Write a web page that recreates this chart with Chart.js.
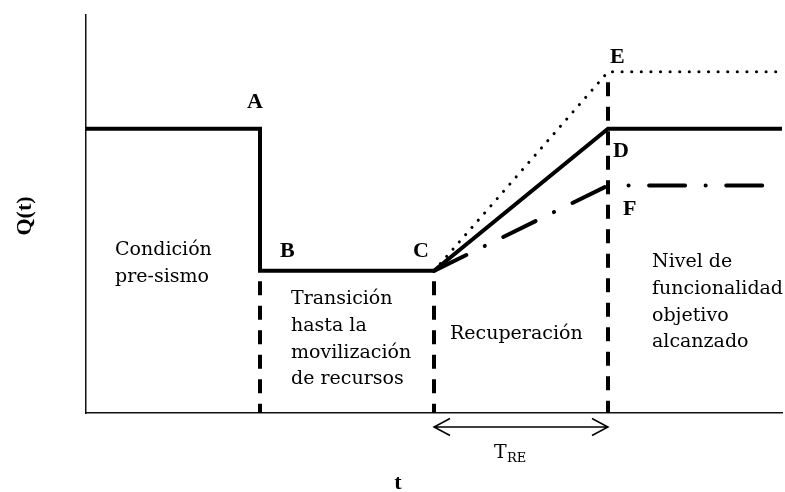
<!DOCTYPE html>
<html>
<head>
<meta charset="utf-8">
<script src="https://cdn.jsdelivr.net/npm/chart.js@4/dist/chart.umd.min.js"></script>
<style>
  html, body { margin: 0; padding: 0; background: #fff; }
  #chart { display: block; }
</style>
</head>
<body>
<canvas id="chart" width="785" height="492"></canvas>
<script>
// axis range (t, Q(t))
const tMax = 100;
const qMax = 7;

// solid curve: pre-sismo -> drop -> recovery -> target
const baseT = [0, 25, 25, 50, 75, 100];
const baseQ = [5, 5, 2.5, 2.5, 5, 5];

// dotted curve (C -> E -> level)
const upperT = [50, 75, 100];
const upperQ = [2.5, 6, 6];

// dash-dot curve (C -> F, then level)
const lowerT = [50, 75];
const lowerQ = [2.5, 4];
const lowerFlatT = [75, 100];
const lowerFlatQ = [4, 4];

// dashed phase boundaries
const phaseT = [25, 50, 75];
const phaseTop = [2.5, 2.5, 6];

// named points
const pointNames = ['A', 'B', 'C', 'D', 'E', 'F'];
const pointT = [25, 25, 50, 75, 75, 75];
const pointQ = [5, 2.5, 2.5, 5, 6, 4];

// region texts
const regionLines = [
  ['Condición', 'pre-sismo'],
  ['Transición', 'hasta la', 'movilización', 'de recursos'],
  ['Recuperación'],
  ['Nivel de', 'funcionalidad', 'objetivo', 'alcanzado']
];
const axisTitleY = 'Q(t)';
const axisTitleX = 't';
const spanMain = 'T';
const spanSub = 'RE';

const toXY = (xs, ys) => xs.map((x, i) => ({ x: x, y: ys[i] }));

const datasets = [];
phaseT.forEach((t, i) => {
  datasets.push({
    data: toXY([t, t], [phaseTop[i], 0]),
    borderColor: '#000',
    borderWidth: 4,
    borderDash: [14, 10.5],
    borderDashOffset: 14,
  });
});
datasets.push({
  data: toXY(upperT, upperQ),
  borderColor: '#000',
  borderWidth: 3,
  borderDash: [0.1, 9.5],
  borderCapStyle: 'round',
});
datasets.push({
  data: toXY(lowerT, lowerQ),
  borderColor: '#000',
  borderWidth: 4,
  borderDash: [36, 20.5, 0.1, 20.5],
  borderCapStyle: 'round',
});
datasets.push({
  data: toXY(lowerFlatT, lowerFlatQ),
  borderColor: '#000',
  borderWidth: 4,
  borderDash: [36, 20.5, 0.1, 20.5],
  borderDashOffset: 36,
  borderCapStyle: 'round',
});
datasets.push({
  data: toXY(baseT, baseQ),
  borderColor: '#000',
  borderWidth: 4,
  borderJoinStyle: 'miter',
});

// letter offsets from their point (px)
const letterOffset = {
  A: [-13, -21], B: [20, -14], C: [-21, -14],
  D: [5, 28], E: [2, -9], F: [15, 29]
};

const notesPlugin = {
  id: 'notes',
  afterDraw(chart) {
    const ctx = chart.ctx;
    const xs = chart.scales.x;
    const ys = chart.scales.y;
    const px = v => xs.getPixelForValue(v);
    const py = v => ys.getPixelForValue(v);
    ctx.save();
    ctx.fillStyle = '#000';

    // point letters
    ctx.font = 'bold 22px "Liberation Serif"';
    ctx.textAlign = 'left';
    ctx.textBaseline = 'alphabetic';
    pointNames.forEach((n, i) => {
      const o = letterOffset[n];
      ctx.fillText(n, px(pointT[i]) + o[0], py(pointQ[i]) + o[1]);
    });

    // region texts
    ctx.font = '19px "DejaVu Serif"';
    const anchors = [
      [px(0) + 29, 255],
      [px(25) + 31, 304],
      [px(50) + 16, 339],
      [px(75) + 44, 267]
    ];
    regionLines.forEach((lines, i) => {
      lines.forEach((s, j) => {
        ctx.fillText(s, anchors[i][0], anchors[i][1] + j * 26.8);
      });
    });

    // recovery span arrow
    const x1 = px(50), x2 = px(75), ya = py(0) + 14;
    ctx.strokeStyle = '#000';
    ctx.lineWidth = 1.5;
    ctx.beginPath();
    ctx.moveTo(x1, ya); ctx.lineTo(x2, ya);
    ctx.moveTo(x1 + 16, ya - 8.5); ctx.lineTo(x1, ya); ctx.lineTo(x1 + 16, ya + 8.5);
    ctx.moveTo(x2 - 16, ya - 8.5); ctx.lineTo(x2, ya); ctx.lineTo(x2 - 16, ya + 8.5);
    ctx.stroke();

    ctx.font = '19px "DejaVu Serif"';
    ctx.fillText(spanMain, x1 + 60, ya + 31);
    ctx.font = '13px "DejaVu Serif"';
    ctx.fillText(spanSub, x1 + 73, ya + 35);

    // axis titles
    ctx.font = 'bold 22px "Liberation Serif"';
    ctx.textAlign = 'center';
    ctx.fillText(axisTitleX, 398, 489);
    ctx.translate(25, 216);
    ctx.rotate(-Math.PI / 2);
    ctx.textBaseline = 'middle';
    ctx.fillText(axisTitleY, 0, 0);
    ctx.restore();
  }
};

new Chart(document.getElementById('chart'), {
  type: 'scatter',
  data: { datasets: datasets },
  options: {
    responsive: false,
    animation: false,
    showLine: true,
    layout: { padding: { left: 86, right: 3, top: 15, bottom: 79 } },
    elements: { point: { radius: 0, hoverRadius: 0 }, line: { tension: 0 } },
    plugins: { legend: { display: false }, tooltip: { enabled: false } },
    scales: {
      x: {
        type: 'linear', min: 0, max: tMax,
        grid: { display: false, drawTicks: false },
        ticks: { display: false },
        border: { display: true, color: '#111', width: 1.5 }
      },
      y: {
        type: 'linear', min: 0, max: qMax,
        grid: { display: false, drawTicks: false },
        ticks: { display: false },
        border: { display: true, color: '#111', width: 1.5 }
      }
    }
  },
  plugins: [notesPlugin]
});
</script>
</body>
</html>
